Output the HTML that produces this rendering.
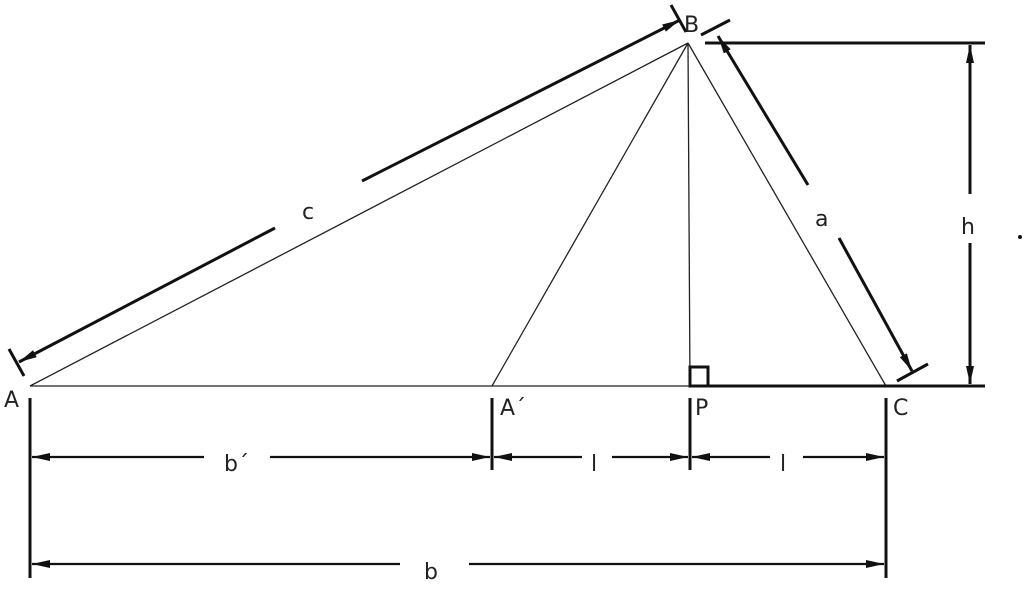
<!DOCTYPE html>
<html><head><meta charset="utf-8"><style>
html,body{margin:0;padding:0;background:#fff;}
svg{display:block;}
text{font-family:"DejaVu Sans","Liberation Sans",sans-serif;font-size:22px;fill:#222;}
</style></head><body>
<svg width="1024" height="590" viewBox="0 0 1024 590" xmlns="http://www.w3.org/2000/svg">
<defs>
<marker id="arL" viewBox="0 0 18 8" refX="18" refY="4" markerWidth="18" markerHeight="8" markerUnits="userSpaceOnUse" orient="auto">
<path d="M0,0 L18,4 L0,8 Z" fill="#111"/></marker>
</defs>
<g stroke="#222" stroke-width="1.3" fill="none">
<line x1="30" y1="386" x2="690" y2="386"/>
<line x1="30" y1="386" x2="688" y2="43"/>
<line x1="492" y1="386" x2="688" y2="43"/>
<line x1="690" y1="386" x2="688" y2="43"/>
<line x1="886" y1="386" x2="688" y2="43"/>
</g>
<g stroke="#111" stroke-width="3" fill="none">
<line x1="690" y1="386" x2="985" y2="386"/>
<rect x="690" y="367" width="18" height="19"/>
<line x1="705" y1="43" x2="985" y2="43"/>
<line x1="970" y1="194" x2="970" y2="45" marker-end="url(#arL)"/>
<line x1="970" y1="243" x2="970" y2="384" marker-end="url(#arL)"/>
<line x1="9" y1="349" x2="24" y2="376"/>
<line x1="275" y1="228" x2="19" y2="362" marker-end="url(#arL)"/>
<line x1="362" y1="181" x2="680" y2="20" marker-end="url(#arL)"/>
<line x1="671" y1="5" x2="686" y2="32"/>
<line x1="701" y1="35" x2="730" y2="20"/>
<line x1="808" y1="185" x2="718" y2="36" marker-end="url(#arL)"/>
<line x1="839" y1="238" x2="912" y2="371" marker-end="url(#arL)"/>
<line x1="897" y1="381" x2="928" y2="364"/>
<line x1="30" y1="398" x2="30" y2="578"/>
<line x1="492" y1="398" x2="492" y2="470"/>
<line x1="690" y1="398" x2="690" y2="470"/>
<line x1="886" y1="398" x2="886" y2="578"/>
</g>
<g stroke="#111" stroke-width="2.2" fill="none">
<line x1="204" y1="457" x2="32" y2="457" marker-end="url(#arL)"/>
<line x1="270" y1="457" x2="490" y2="457" marker-end="url(#arL)"/>
<line x1="582" y1="457" x2="494" y2="457" marker-end="url(#arL)"/>
<line x1="612" y1="457" x2="688" y2="457" marker-end="url(#arL)"/>
<line x1="770" y1="457" x2="692" y2="457" marker-end="url(#arL)"/>
<line x1="803" y1="457" x2="884" y2="457" marker-end="url(#arL)"/>
<line x1="400" y1="564" x2="32" y2="564" marker-end="url(#arL)"/>
<line x1="469" y1="564" x2="884" y2="564" marker-end="url(#arL)"/>
</g>
<text x="4" y="407">A</text>
<text x="684" y="32">B</text>
<text x="893" y="415">C</text>
<text x="500" y="415">A´</text>
<text x="695" y="415">P</text>
<text x="302" y="219">c</text>
<text x="815" y="226">a</text>
<text x="961" y="234">h</text>
<text x="224" y="471">b´</text>
<text x="591" y="471">l</text>
<text x="780" y="471">l</text>
<text x="424" y="579">b</text>
<circle cx="1020" cy="237" r="2" fill="#111"/>
</svg>
</body></html>
